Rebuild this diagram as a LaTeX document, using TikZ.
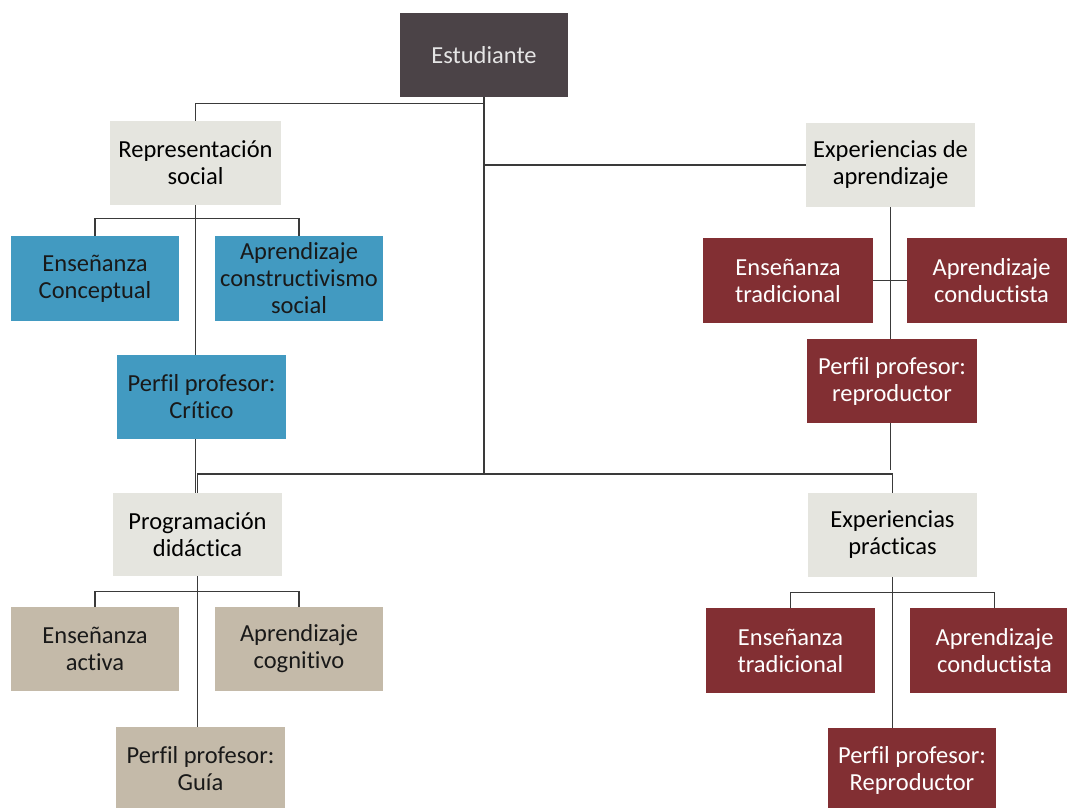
\documentclass[tikz,border=0pt]{standalone}
\usepackage{fontspec}
\setmainfont{Carlito}[Ligatures={NoCommon}]
\definecolor{rootfill}{HTML}{4B4347}
\definecolor{headfill}{HTML}{E5E5DF}
\definecolor{bluefill}{HTML}{429AC1}
\definecolor{tanfill}{HTML}{C4BAA9}
\definecolor{redfill}{HTML}{822F33}
\definecolor{linkcol}{HTML}{3A3A3A}
\begin{document}
\begin{tikzpicture}[x=1pt,y=-1pt,
  box/.style={rectangle, inner sep=0pt, align=center,
    minimum width=169pt, minimum height=84pt,
    font=\fontsize{24.5}{27}\selectfont},
  rootbox/.style={box, fill=rootfill, text=white!90!black},
  headbox/.style={box, fill=headfill, text=black},
  bluebox/.style={box, fill=bluefill, text=black!90},
  tanbox/.style={box, fill=tanfill, text=black!90},
  redbox/.style={box, fill=redfill, text=white},
  link/.style={draw=linkcol, line width=1.2pt}]
\useasboundingbox (0,0) rectangle (1067,807);

% top level
\node[rootbox, minimum width=168pt] (est) at (484,55) {Estudiante};

% left branch: representation
\node[headbox, minimum width=171pt] (rep) at (195.5,163) {Representación\\social};
\node[bluebox, minimum width=168pt, minimum height=85pt] (ensC) at (95,278.5) {Enseñanza\\Conceptual};
\node[bluebox, minimum width=168pt, minimum height=85pt] (aprC) at (299,278.5) {Aprendizaje\\constructivismo\\social};
\node[bluebox] (perC) at (201.5,397) {Perfil profesor:\\Crítico};

% left branch: programming
\node[headbox, minimum height=83pt] (prog) at (197.5,534.5) {Programación\\didáctica};
\node[tanbox, minimum width=168pt] (ensA) at (95,649) {Enseñanza\\activa};
\node[tanbox, minimum width=168pt] (aprG) at (299,649) {Aprendizaje\\cognitivo};
\node[tanbox] (guia) at (200.5,769) {Perfil profesor:\\Guía};

% right branch: learning experiences
\node[headbox] (expA) at (890.5,165) {Experiencias de\\aprendizaje};
\node[redbox, minimum width=170pt, minimum height=85pt] (ensT1) at (788,280.5) {Enseñanza\\tradicional};
\node[redbox, minimum height=85pt] (aprT1) at (991.5,280.5) {Aprendizaje\\conductista};
\node[redbox, minimum width=170pt] (perR1) at (892,381) {Perfil profesor:\\reproductor};

% right branch: practical experiences
\node[headbox] (expP) at (892.5,535) {Experiencias\\prácticas};
\node[redbox, minimum height=85pt] (ensT2) at (790.5,650.5) {Enseñanza\\tradicional};
\node[redbox, minimum height=85pt] (aprT2) at (994.5,650.5) {Aprendizaje\\conductista};
\node[redbox, minimum width=168pt] (perR2) at (912,770) {Perfil profesor:\\Reproductor};

\coordinate (trunkEnd) at (484,474);
\coordinate (repTail) at (890.5,470);

% connectors from the root
\draw[link] (est.south) -- ++(0,6) -| (rep.north);
\draw[link] (est.south) |- (expA.west);
\draw[link] (est.south) -- (trunkEnd);
\draw[link] (trunkEnd) -| (prog.north);
\draw[link] (trunkEnd) -| (expP.north);

% representation subtree
\draw[link] (rep.south) -- ++(0,13) -| (ensC.north);
\draw[link] (rep.south) ++(0,13) -| (aprC.north);
\draw[link] (rep.south) -- (rep.south |- perC.north);
\draw[link] (rep.south |- perC.south) -- (rep.south |- prog.north);

% programming subtree
\draw[link] (prog.south) -- ++(0,15) -| (ensA.north);
\draw[link] (prog.south) ++(0,15) -| (aprG.north);
\draw[link] (prog.south) -- (prog.south |- guia.north);

% learning experiences subtree
\draw[link] (expA.south) -- (expA.south |- perR1.north);
\draw[link] (ensT1.east) -- (aprT1.west);
\draw[link] (expA.south |- perR1.south) -- (repTail);

% practical experiences subtree
\draw[link] (expP.south) -- ++(0,15) -| (ensT2.north);
\draw[link] (expP.south) ++(0,15) -| (aprT2.north);
\draw[link] (expP.south) -- (expP.south |- perR2.north);
\end{tikzpicture}
\end{document}
